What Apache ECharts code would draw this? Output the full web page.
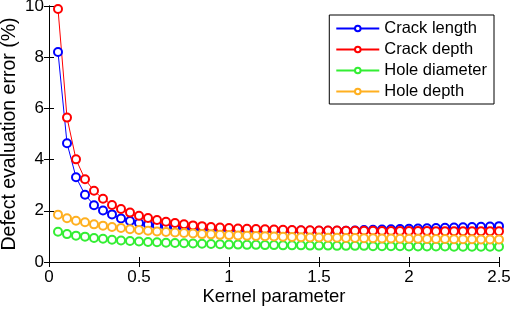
<!DOCTYPE html>
<html>
<head>
<meta charset="utf-8">
<script src="https://cdn.jsdelivr.net/npm/echarts@6/dist/echarts.min.js"></script>
<style>
  html, body { margin: 0; padding: 0; background: #fff; }
  #chart { width: 512px; height: 309px; }
</style>
</head>
<body>
<div id="chart"></div>
<script>
// kernel parameter values (x)
var kernelParam = [0.05, 0.1, 0.15, 0.2, 0.25, 0.3, 0.35, 0.4, 0.45, 0.5,
    0.55, 0.6, 0.65, 0.7, 0.75, 0.8, 0.85, 0.9, 0.95, 1.0,
    1.05, 1.1, 1.15, 1.2, 1.25, 1.3, 1.35, 1.4, 1.45, 1.5,
    1.55, 1.6, 1.65, 1.7, 1.75, 1.8, 1.85, 1.9, 1.95, 2.0,
    2.05, 2.1, 2.15, 2.2, 2.25, 2.3, 2.35, 2.4, 2.45, 2.5];

var crackLength = [8.2, 4.64, 3.31, 2.63, 2.22, 2.01, 1.86, 1.70, 1.60, 1.52,
    1.46, 1.42, 1.39, 1.36, 1.34, 1.32, 1.30, 1.29, 1.28, 1.27,
    1.26, 1.25, 1.25, 1.24, 1.24, 1.23, 1.23, 1.23, 1.22, 1.22,
    1.22, 1.22, 1.22, 1.23, 1.25, 1.26, 1.27, 1.28, 1.29, 1.30,
    1.31, 1.32, 1.33, 1.34, 1.35, 1.36, 1.37, 1.38, 1.39, 1.40];

var crackDepth = [9.88, 5.64, 4.01, 3.23, 2.78, 2.47, 2.23, 2.07, 1.93, 1.81,
    1.72, 1.64, 1.57, 1.52, 1.47, 1.43, 1.40, 1.37, 1.35, 1.33,
    1.31, 1.30, 1.29, 1.28, 1.27, 1.26, 1.25, 1.24, 1.24, 1.23,
    1.23, 1.23, 1.22, 1.22, 1.22, 1.22, 1.21, 1.21, 1.21, 1.21,
    1.21, 1.21, 1.20, 1.20, 1.20, 1.20, 1.20, 1.20, 1.20, 1.20];

var holeDiameter = [1.18, 1.09, 1.03, 0.99, 0.94, 0.91, 0.87, 0.84, 0.82, 0.80,
    0.78, 0.77, 0.75, 0.74, 0.73, 0.72, 0.71, 0.70, 0.69, 0.68,
    0.68, 0.67, 0.67, 0.66, 0.66, 0.65, 0.65, 0.65, 0.64, 0.64,
    0.64, 0.63, 0.63, 0.63, 0.63, 0.62, 0.62, 0.62, 0.62, 0.61,
    0.61, 0.61, 0.61, 0.61, 0.60, 0.60, 0.60, 0.60, 0.60, 0.60];

var holeDepth = [1.85, 1.71, 1.61, 1.55, 1.47, 1.42, 1.37, 1.33, 1.28, 1.25,
    1.22, 1.19, 1.17, 1.15, 1.13, 1.11, 1.09, 1.08, 1.06, 1.05,
    1.04, 1.03, 1.02, 1.01, 1.00, 0.99, 0.98, 0.97, 0.96, 0.96,
    0.95, 0.95, 0.94, 0.94, 0.93, 0.93, 0.92, 0.92, 0.91, 0.91,
    0.91, 0.90, 0.90, 0.90, 0.89, 0.89, 0.89, 0.88, 0.88, 0.88];

var seriesNames = ['Crack length', 'Crack depth', 'Hole diameter', 'Hole depth'];
var seriesColors = ['#0000ff', '#ff0000', '#33ee33', '#ffb020'];
var seriesData = [crackLength, crackDepth, holeDiameter, holeDepth];

var fontFam = '"Liberation Sans", Arial, sans-serif';

function pairs(ys) {
    return ys.map(function (y, i) { return [kernelParam[i], y]; });
}

var chart = echarts.init(document.getElementById('chart'), null, { renderer: 'canvas' });

var series = seriesNames.map(function (name, i) {
    return {
        name: name,
        type: 'line',
        data: pairs(seriesData[i]),
        symbol: 'emptyCircle',
        symbolSize: 8,
        lineStyle: { color: seriesColors[i], width: 1 },
        itemStyle: { color: seriesColors[i], borderColor: seriesColors[i], borderWidth: 1 },
        emphasis: { disabled: true },
        animation: false
    };
});

var axisText = { color: '#000', fontSize: 17, fontFamily: fontFam };

var option = {
    backgroundColor: '#fff',
    animation: false,
    grid: { left: 49, right: 13, top: 6, bottom: 47, containLabel: false, outerBoundsMode: 'none' },
    legend: {
        data: seriesNames,
        orient: 'vertical',
        right: 18,
        top: 15,
        itemWidth: 43,
        itemHeight: 7,
        itemGap: 4,
        padding: [5, 7, 4, 6],
        borderColor: '#000',
        borderWidth: 1,
        backgroundColor: '#fff',
        textStyle: { color: '#000', fontSize: 16.5, fontFamily: fontFam }
    },
    xAxis: [{
        type: 'value',
        min: 0,
        max: 2.5,
        interval: 0.5,
        name: 'Kernel parameter',
        nameLocation: 'middle',
        nameGap: 25,
        nameMoveOverlap: false,
        nameTextStyle: { color: '#000', fontSize: 18.5, fontFamily: fontFam },
        axisLine: { lineStyle: { color: '#000', width: 1 } },
        axisTick: { inside: true, length: 5, lineStyle: { color: '#000' } },
        axisLabel: Object.assign({ margin: 7 }, axisText),
        splitLine: { show: false }
    }, {
        type: 'value',
        position: 'top',
        min: 0,
        max: 2.5,
        interval: 0.5,
        axisLine: { show: true, lineStyle: { color: '#000', width: 1 } },
        axisTick: { inside: true, length: 5, lineStyle: { color: '#000' } },
        axisLabel: { show: false },
        splitLine: { show: false }
    }],
    yAxis: [{
        type: 'value',
        min: 0,
        max: 10,
        interval: 2,
        name: 'Defect evaluation error (%)',
        nameLocation: 'middle',
        nameGap: 29,
        nameMoveOverlap: false,
        nameTextStyle: { color: '#000', fontSize: 19.5, fontFamily: fontFam },
        axisLine: { show: true, lineStyle: { color: '#000', width: 1 } },
        axisTick: { inside: true, length: 5, lineStyle: { color: '#000' } },
        axisLabel: Object.assign({ margin: 5 }, axisText),
        splitLine: { show: false }
    }, {
        type: 'value',
        position: 'right',
        min: 0,
        max: 10,
        interval: 2,
        axisLine: { show: true, lineStyle: { color: '#000', width: 1 } },
        axisTick: { inside: true, length: 5, lineStyle: { color: '#000' } },
        axisLabel: { show: false },
        splitLine: { show: false }
    }],
    series: series
};

chart.setOption(option);
</script>
</body>
</html>
